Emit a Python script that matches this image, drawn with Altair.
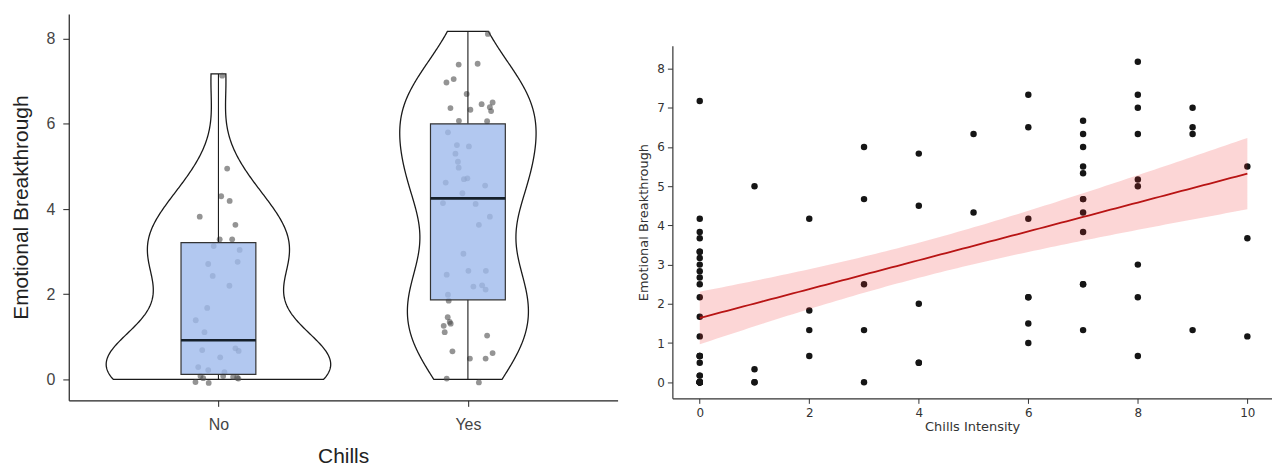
import altair as alt
import numpy as np
import pandas as pd

# ---------------- Left panel: Chills (No / Yes) ----------------
groups = ["No", "Yes"]

# jittered points: horizontal jitter (category units) and value
no_jitter = [0.015, 0.035, 0.011, 0.045, -0.075, 0.068, 0.005, 0.055, -0.019, 0.085,
             0.077, -0.041, -0.023, 0.044, -0.045, -0.091, -0.056, -0.065, 0.068, 0.081,
             0.007, -0.081, -0.041, 0.024, -0.072, -0.061, -0.092, -0.039, 0.019, 0.059,
             0.075, 0.080]
no_values = [7.13, 4.95, 4.30, 4.19, 3.82, 3.63, 3.29, 3.29, 3.13, 3.04,
             2.76, 2.71, 2.43, 2.20, 1.68, 1.39, 1.11, 0.69, 0.73, 0.67,
             0.52, 0.29, 0.22, 0.17, 0.08, 0.03, -0.06, -0.08, 0.08, 0.06,
             0.04, 0.02]
yes_jitter = [0.080, -0.037, 0.039, -0.086, -0.057, -0.005, -0.070, 0.010, 0.055, 0.088,
              0.099, 0.093, -0.036, 0.077, -0.080, -0.044, 0.004, -0.050, -0.040, -0.037,
              -0.016, -0.002, -0.089, 0.069, -0.022, -0.100, 0.031, 0.088, 0.044, -0.018,
              -0.085, 0.002, 0.072, 0.022, 0.057, 0.071, -0.080, -0.077, -0.081, -0.073,
              -0.069, -0.097, -0.093, 0.077, -0.062, 0.099, 0.071, 0.008, -0.085, 0.044]
yes_values = [8.11, 7.39, 7.41, 6.97, 7.05, 6.70, 6.37, 6.33, 6.46, 6.39,
              6.50, 6.30, 6.07, 6.06, 5.80, 5.50, 5.47, 5.30, 5.11, 4.97,
              4.70, 4.72, 4.62, 4.55, 4.37, 4.14, 4.12, 3.82, 3.63, 2.95,
              2.46, 2.55, 2.55, 2.18, 2.21, 2.11, 1.99, 1.85, 1.46, 1.35,
              1.31, 1.26, 1.11, 1.03, 0.66, 0.62, 0.49, 0.49, 0.02, -0.07]

# box-plot summary
box_q1 = [0.12, 1.87]
box_median = [0.92, 4.25]
box_q3 = [3.21, 6.00]
whisker_lo = [0.0, 0.0]
whisker_hi = [7.17, 8.17]
# violin trimmed range
violin_lo = [0.0, 0.0]
violin_hi = [7.17, 8.17]

# ---------------- Right panel: Chills intensity ----------------
intensity = ([0] * 28 + [1] * 4 + [2] * 4 + [3] * 5 + [4] * 5 + [5] * 2 + [6] * 7 +
             [7] * 12 + [8] * 9 + [9] * 4 + [10] * 3)
breakthrough = [7.17, 4.17, 3.83, 3.67, 3.33, 3.33, 3.17, 3.00, 2.83, 2.67, 2.50, 2.17,
                1.67, 1.17, 0.67, 0.67, 0.67, 0.50, 0.17, 0.17, 0, 0, 0, 0, 0, 0, 0, 0,
                5.00, 0.33, 0, 0,
                4.17, 1.83, 1.33, 0.67,
                6.00, 4.67, 2.50, 1.33, 0,
                5.83, 4.50, 2.00, 0.50, 0.50,
                6.33, 4.33,
                7.33, 6.50, 4.17, 2.17, 2.17, 1.50, 1.00,
                6.67, 6.33, 6.00, 5.50, 5.33, 4.67, 4.67, 4.33, 3.83, 2.50, 2.50, 1.33,
                8.17, 7.33, 7.00, 6.33, 5.17, 5.00, 3.00, 2.17, 0.67,
                7.00, 6.50, 6.33, 1.33,
                5.50, 3.67, 1.17]

# ---------------- derived tables ----------------
pts = pd.DataFrame({
    "group": ["No"] * len(no_values) + ["Yes"] * len(yes_values),
    "idx": [1] * len(no_values) + [2] * len(yes_values),
    "jitter": no_jitter + yes_jitter,
    "value": no_values + yes_values,
})

box = pd.DataFrame({
    "group": groups, "idx": [1, 2],
    "q1": box_q1, "median": box_median, "q3": box_q3,
    "lo": whisker_lo, "hi": whisker_hi,
})


def nrd0(v):
    v = np.asarray(v, float)
    sd = v.std(ddof=1)
    q75, q25 = np.percentile(v, [75, 25])
    return 0.9 * min(sd, (q75 - q25) / 1.34) * len(v) ** -0.2


vrows = []
for i, vals in enumerate([no_values, yes_values]):
    v = np.asarray(vals, float)
    bw = nrd0(v)
    grid = np.linspace(violin_lo[i], violin_hi[i], 256)
    d = np.exp(-0.5 * ((grid[:, None] - v[None, :]) / bw) ** 2).sum(1) / (len(v) * bw * np.sqrt(2 * np.pi))
    for g, dd in zip(grid, d):
        vrows.append({"group": groups[i], "idx": i + 1, "value": float(g), "density": float(dd)})
violin = pd.DataFrame(vrows)

# linear fit with 95% confidence band
xs = np.asarray(intensity, float)
ys = np.asarray(breakthrough, float)
n = len(xs)
slope, intercept = np.polyfit(xs, ys, 1)
resid = ys - (intercept + slope * xs)
s = np.sqrt((resid ** 2).sum() / (n - 2))
sxx = ((xs - xs.mean()) ** 2).sum()
xg = np.linspace(xs.min(), xs.max(), 101)
fit = intercept + slope * xg
se = s * np.sqrt(1.0 / n + (xg - xs.mean()) ** 2 / sxx)
tcrit = 1.9925
band = pd.DataFrame({"x": xg, "fit": fit, "lo": fit - tcrit * se, "hi": fit + tcrit * se})
scatter = pd.DataFrame({"x": xs, "y": ys})

# ---------------- left chart ----------------
LF = "Liberation Sans"
label_expr = " : ".join([f"datum.value == {i + 1} ? '{g}'" for i, g in enumerate(groups)]) + " : ''"

xscale_l = alt.Scale(domain=[0.4, 2.6], nice=False, zero=False)
yscale_l = alt.Scale(domain=[-0.49, 8.58], nice=False, zero=False)
xaxis_l = alt.Axis(values=[1, 2], labelExpr=label_expr, title="Chills", grid=False,
                   labelFont=LF, labelFontSize=16, labelColor="#444444", labelPadding=10,
                   tickSize=6, tickColor="#222222", domainColor="#222222", domainWidth=1.2,
                   titleFont=LF, titleFontSize=21, titleFontWeight="normal", titleColor="#222222",
                   titlePadding=13)
yaxis_l = alt.Axis(values=[0, 2, 4, 6, 8], title="Emotional Breakthrough", grid=False,
                   labelFont=LF, labelFontSize=16, labelColor="#444444", labelPadding=8,
                   tickSize=6, tickColor="#222222", domainColor="#222222", domainWidth=1.2,
                   titleFont=LF, titleFontSize=21, titleFontWeight="normal", titleColor="#222222",
                   titlePadding=15)

violin_layer = alt.Chart(violin).transform_joinaggregate(
    dmax="max(density)"
).transform_calculate(
    xl="datum.idx - datum.density / datum.dmax * 0.45",
    xr="datum.idx + datum.density / datum.dmax * 0.45",
).mark_area(orient="horizontal", fill="white", stroke="#1a1a1a", strokeWidth=1.3).encode(
    y=alt.Y("value:Q", scale=yscale_l, axis=yaxis_l),
    x=alt.X("xl:Q", scale=xscale_l, axis=xaxis_l),
    x2="xr:Q",
    detail="group:N",
)

points_layer = alt.Chart(pts).transform_calculate(
    xp="datum.idx + datum.jitter"
).mark_circle(size=34, color="#4d4d4d", opacity=0.6).encode(
    x=alt.X("xp:Q", scale=xscale_l),
    y=alt.Y("value:Q", scale=yscale_l),
)

box_base = alt.Chart(box).transform_calculate(
    bl="datum.idx - 0.15", br="datum.idx + 0.15"
)
whisk_low = box_base.mark_rule(color="#1a1a1a", strokeWidth=1.1).encode(
    x=alt.X("idx:Q", scale=xscale_l), y=alt.Y("lo:Q", scale=yscale_l), y2="q1:Q")
whisk_high = box_base.mark_rule(color="#1a1a1a", strokeWidth=1.1).encode(
    x=alt.X("idx:Q", scale=xscale_l), y=alt.Y("q3:Q", scale=yscale_l), y2="hi:Q")
box_rect = box_base.mark_rect(fill="#9fbaec", fillOpacity=0.8, stroke="#333333", strokeWidth=1.2).encode(
    x=alt.X("bl:Q", scale=xscale_l), x2="br:Q",
    y=alt.Y("q1:Q", scale=yscale_l), y2="q3:Q")
median_rule = box_base.mark_rule(color="#15202b", strokeWidth=2.6).encode(
    x=alt.X("bl:Q", scale=xscale_l), x2="br:Q",
    y=alt.Y("median:Q", scale=yscale_l))

left = alt.layer(violin_layer, points_layer, whisk_low, whisk_high, box_rect, median_rule).properties(
    width=551, height=388)

# ---------------- right chart ----------------
RF = "DejaVu Sans"
xscale_r = alt.Scale(domain=[-0.5, 10.45], nice=False, zero=False)
yscale_r = alt.Scale(domain=[-0.41, 8.58], nice=False, zero=False)
xaxis_r = alt.Axis(values=[0, 2, 4, 6, 8, 10], format="d", title="Chills Intensity", grid=False,
                   labelFont=RF, labelFontSize=12, labelColor="#333333", labelPadding=4,
                   tickSize=5, tickColor="#333333", domainColor="#333333", domainWidth=1.2,
                   titleFont=RF, titleFontSize=13, titleFontWeight="normal", titleColor="#333333",
                   titlePadding=2)
yaxis_r = alt.Axis(values=[0, 1, 2, 3, 4, 5, 6, 7, 8], format="d", title="Emotional Breakthrough",
                   grid=False,
                   labelFont=RF, labelFontSize=12, labelColor="#333333", labelPadding=3,
                   tickSize=5, tickColor="#333333", domainColor="#333333", domainWidth=1.2,
                   titleFont=RF, titleFontSize=13, titleFontWeight="normal", titleColor="#333333",
                   titlePadding=6)

scatter_layer = alt.Chart(scatter).mark_circle(size=42, color="#151515", opacity=1).encode(
    x=alt.X("x:Q", scale=xscale_r, axis=xaxis_r),
    y=alt.Y("y:Q", scale=yscale_r, axis=yaxis_r),
)
band_layer = alt.Chart(band).mark_area(color="#f03030", opacity=0.2).encode(
    x=alt.X("x:Q", scale=xscale_r), y=alt.Y("lo:Q", scale=yscale_r), y2="hi:Q")
fit_layer = alt.Chart(band).mark_line(color="#b81414", strokeWidth=1.8).encode(
    x=alt.X("x:Q", scale=xscale_r), y=alt.Y("fit:Q", scale=yscale_r))

right_plot = alt.layer(scatter_layer, band_layer, fit_layer).properties(width=602, height=354)

# empty spacer that pushes the right panel down (its invisible point sits mid-way)
spacer = alt.Chart(pd.DataFrame({"a": [0]})).mark_point(opacity=0, size=1).encode(
    x=alt.value(300), y=alt.value(16)
).properties(width=602, height=32)

right = alt.vconcat(spacer, right_plot, spacing=0)

chart = alt.hconcat(left, right, spacing=20).properties(
    padding={"left": 2, "top": 5, "right": 0, "bottom": 0},
    background="white",
).configure_view(strokeWidth=0)

chart.save("out.html", embed_options={"renderer": "svg", "actions": False})
